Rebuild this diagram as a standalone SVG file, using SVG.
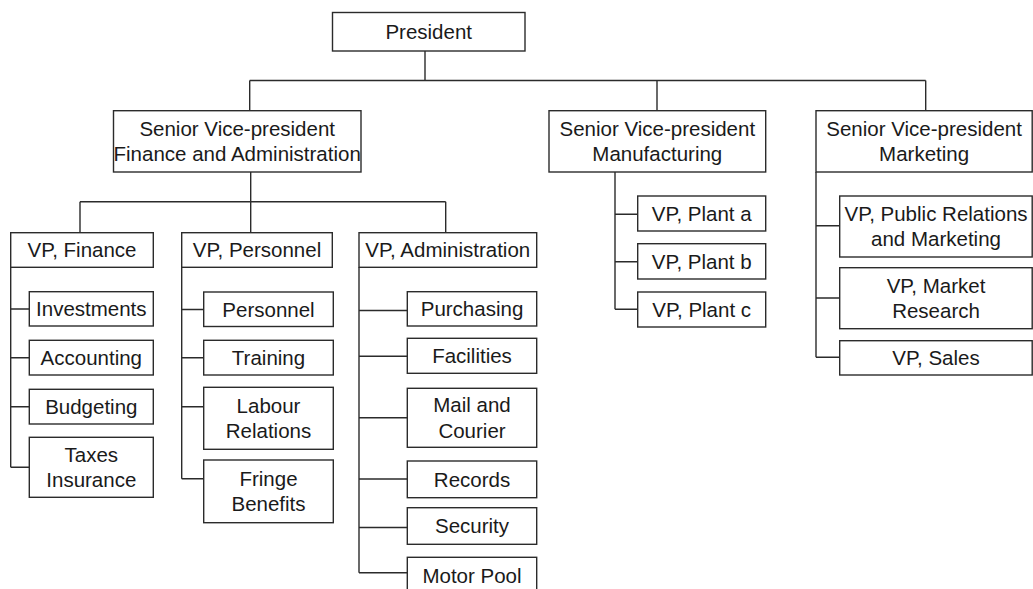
<svg xmlns="http://www.w3.org/2000/svg" width="1033" height="589" viewBox="0 0 1033 589">
  <style>
    .box { fill: #ffffff; stroke: #2b2b2b; stroke-width: 1.4; }
    .wire { fill: none; stroke: #2b2b2b; stroke-width: 1.4; }
    text { font-family: "Liberation Sans", Arial, Helvetica, sans-serif; font-size: 20.5px; fill: #1a1a1a; text-anchor: middle; }
  </style>
  <rect width="1033" height="589" fill="#ffffff"/>

  <!-- connectors -->
  <g id="connectors" class="wire">
    <!-- president to senior VPs -->
    <path d="M425,51 V80.5 M249.7,80.5 H925.7 M249.7,80.5 V110.7 M657,80.5 V110.7 M925.7,80.5 V110.7"/>
    <!-- finance & administration to VPs -->
    <path d="M250.7,172 V232.7 M80,201.7 H445.7 M80,201.7 V232.7 M445.7,201.7 V232.7"/>
    <!-- VP finance departments -->
    <path d="M10.7,267.3 V467.3 M10.7,309 H29.3 M10.7,357.7 H29.3 M10.7,406.7 H29.3 M10.7,467.3 H29.3"/>
    <!-- VP personnel departments -->
    <path d="M181.7,267.3 V478.7 M181.7,309.5 H203.7 M181.7,357.7 H203.7 M181.7,406.7 H203.7 M181.7,478.7 H203.7"/>
    <!-- VP administration departments -->
    <path d="M359,267.3 V572.7 M359,310.5 H407.3 M359,356.2 H407.3 M359,417.7 H407.3 M359,479 H407.3 M359,527.5 H407.3 M359,572.7 H407.3"/>
    <!-- manufacturing plants -->
    <path d="M615,172 V309.3 M615,214.3 H637.7 M615,261.7 H637.7 M615,309.3 H637.7"/>
    <!-- marketing VPs -->
    <path d="M816,172 V357.3 M816,225.7 H839.7 M816,298 H839.7 M816,357.3 H839.7"/>
  </g>

  <!-- top level -->
  <g id="president">
    <rect class="box" x="332.5" y="12.5" width="192.5" height="38.5"/>
    <text x="428.7" y="39">President</text>
  </g>

  <!-- senior vice-presidents -->
  <g id="svp-finance-admin">
    <rect class="box" x="113.5" y="110.7" width="247.5" height="61.3"/>
    <text x="237.2" y="135.7">Senior Vice-president</text>
    <text x="237.2" y="160.7">Finance and Administration</text>
  </g>
  <g id="svp-manufacturing">
    <rect class="box" x="549" y="110.7" width="216.7" height="61.3"/>
    <text x="657.3" y="135.7">Senior Vice-president</text>
    <text x="657.3" y="160.7">Manufacturing</text>
  </g>
  <g id="svp-marketing">
    <rect class="box" x="816" y="110.7" width="216.2" height="61.3"/>
    <text x="924.1" y="135.7">Senior Vice-president</text>
    <text x="924.1" y="160.7">Marketing</text>
  </g>

  <!-- finance and administration VPs -->
  <g id="vp-finance">
    <rect class="box" x="10.7" y="232.7" width="142.6" height="34.6"/>
    <text x="82" y="257.3">VP, Finance</text>
  </g>
  <g id="vp-personnel">
    <rect class="box" x="181.7" y="232.7" width="150.6" height="34.6"/>
    <text x="257" y="257.3">VP, Personnel</text>
  </g>
  <g id="vp-administration">
    <rect class="box" x="359" y="232.7" width="177.7" height="34.6"/>
    <text x="447.8" y="257.3">VP, Administration</text>
  </g>

  <!-- finance departments -->
  <g id="investments">
    <rect class="box" x="29.3" y="291.7" width="124" height="34.3"/>
    <text x="91.3" y="316">Investments</text>
  </g>
  <g id="accounting">
    <rect class="box" x="29.3" y="340.3" width="124" height="34.7"/>
    <text x="91.3" y="365">Accounting</text>
  </g>
  <g id="budgeting">
    <rect class="box" x="29.3" y="389.3" width="124" height="34.7"/>
    <text x="91.3" y="414">Budgeting</text>
  </g>
  <g id="taxes-insurance">
    <rect class="box" x="29.3" y="437.3" width="124" height="60"/>
    <text x="91.3" y="461.7">Taxes</text>
    <text x="91.3" y="487.3">Insurance</text>
  </g>

  <!-- personnel departments -->
  <g id="personnel">
    <rect class="box" x="203.7" y="292" width="129.6" height="34.5"/>
    <text x="268.5" y="316.5">Personnel</text>
  </g>
  <g id="training">
    <rect class="box" x="203.7" y="340.3" width="129.6" height="34.7"/>
    <text x="268.5" y="365">Training</text>
  </g>
  <g id="labour-relations">
    <rect class="box" x="203.7" y="387.3" width="129.6" height="62"/>
    <text x="268.5" y="412.5">Labour</text>
    <text x="268.5" y="438">Relations</text>
  </g>
  <g id="fringe-benefits">
    <rect class="box" x="203.7" y="460" width="129.6" height="62.7"/>
    <text x="268.5" y="485.5">Fringe</text>
    <text x="268.5" y="511">Benefits</text>
  </g>

  <!-- administration departments -->
  <g id="purchasing">
    <rect class="box" x="407.3" y="291.7" width="129.4" height="34.3"/>
    <text x="472" y="316">Purchasing</text>
  </g>
  <g id="facilities">
    <rect class="box" x="407.3" y="338.3" width="129.4" height="35"/>
    <text x="472" y="363">Facilities</text>
  </g>
  <g id="mail-courier">
    <rect class="box" x="407.3" y="388.3" width="129.4" height="59"/>
    <text x="472" y="412">Mail and</text>
    <text x="472" y="437.5">Courier</text>
  </g>
  <g id="records">
    <rect class="box" x="407.3" y="461" width="129.4" height="36.7"/>
    <text x="472" y="486.5">Records</text>
  </g>
  <g id="security">
    <rect class="box" x="407.3" y="507.7" width="129.4" height="36.6"/>
    <text x="472" y="533">Security</text>
  </g>
  <g id="motor-pool">
    <rect class="box" x="407.3" y="557.3" width="129.4" height="40"/>
    <text x="472" y="583">Motor Pool</text>
  </g>

  <!-- manufacturing plants -->
  <g id="vp-plant-a">
    <rect class="box" x="637.7" y="196" width="128" height="35"/>
    <text x="701.7" y="221">VP, Plant a</text>
  </g>
  <g id="vp-plant-b">
    <rect class="box" x="637.7" y="243.7" width="128" height="35.3"/>
    <text x="701.7" y="268.7">VP, Plant b</text>
  </g>
  <g id="vp-plant-c">
    <rect class="box" x="637.7" y="292" width="128" height="35"/>
    <text x="701.7" y="317">VP, Plant c</text>
  </g>

  <!-- marketing VPs -->
  <g id="vp-public-relations">
    <rect class="box" x="839.7" y="196" width="192.5" height="61"/>
    <text x="936" y="220.5">VP, Public Relations</text>
    <text x="936" y="246">and Marketing</text>
  </g>
  <g id="vp-market-research">
    <rect class="box" x="839.7" y="267.7" width="192.5" height="61"/>
    <text x="936" y="292.5">VP, Market</text>
    <text x="936" y="318">Research</text>
  </g>
  <g id="vp-sales">
    <rect class="box" x="839.7" y="340.7" width="192.5" height="34.3"/>
    <text x="936" y="365">VP, Sales</text>
  </g>
</svg>
